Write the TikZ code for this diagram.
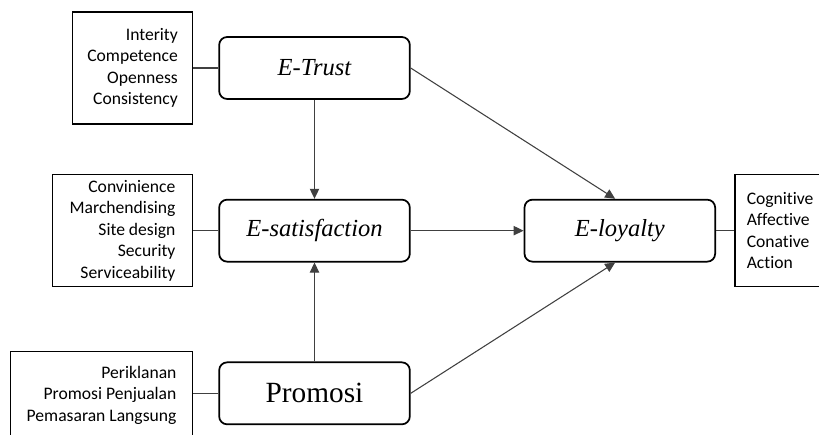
\documentclass[tikz,border=0pt]{standalone}
\usepackage{fontspec}
\setmainfont{Liberation Serif}
\newfontfamily\calibri[Ligatures=NoCommon]{Carlito}
\usetikzlibrary{positioning,arrows.meta}

\tikzset{
    varbox/.style={draw, rounded corners=6pt, line width=1.3pt, minimum width=143pt, minimum height=46.5pt, inner sep=0pt, font=\fontsize{18.4}{20}\selectfont\itshape},
    indbox/.style={draw, rectangle, line width=1.1pt, inner sep=0pt, font=\calibri\fontsize{13.2}{16.1}\selectfont},
    link/.style={draw=black!75, line width=0.8pt},
    arr/.style={link, -{Triangle[length=7.5pt,width=7pt]}}
}

\begin{document}
\begin{tikzpicture}[x=0.75pt, y=-0.75pt, node distance=122pt]
    \useasboundingbox (0,0) rectangle (819,435);
    \clip (0,0) rectangle (819,435);

    % Variables
    \node[varbox] (etrust) at (314.5,68) {E-Trust};
    \node[varbox, below of=etrust] (esat) {E-satisfaction};
    \node[varbox, below of=esat, font=\fontsize{22}{24}\selectfont] (promosi) {Promosi};
    \node[varbox, right of=esat, xshift=107pt] (eloyalty) {E-loyalty};

    % Indicators
    \node[indbox, align=right, minimum width=90pt, minimum height=84pt, left=18.75pt of etrust] (trustind) {Interity\\Competence\\Openness\\Consistency};
    \node[indbox, align=right, minimum width=105pt, minimum height=84pt, left=18.75pt of esat] (satind) {Convinience\\Marchendising\\Site design\\Security\\Serviceability};
    \node[indbox, align=right, minimum width=136.5pt, minimum height=66pt, left=18.75pt of promosi, yshift=-1.5pt] (promoind) {Periklanan\\Promosi Penjualan\\Pemasaran Langsung};
    \node[indbox, align=left, minimum width=68pt, minimum height=84pt, right=13.5pt of eloyalty] (loyalind) {Cognitive\\Affective\\Conative\\Action};

    % Indicator links
    \draw[link] (trustind) -- (etrust);
    \draw[link] (satind) -- (esat);
    \draw[link] (promoind.east |- promosi) -- (promosi);
    \draw[link] (eloyalty) -- (loyalind);

    % Paths
    \draw[arr] (etrust) -- (esat);
    \draw[arr] (promosi) -- (esat);
    \draw[arr] (esat) -- (eloyalty);
    \draw[arr] (etrust.east) -- ([xshift=-3.5pt]eloyalty.north);
    \draw[arr] (promosi.east) -- ([xshift=-3.5pt]eloyalty.south);
\end{tikzpicture}
\end{document}
